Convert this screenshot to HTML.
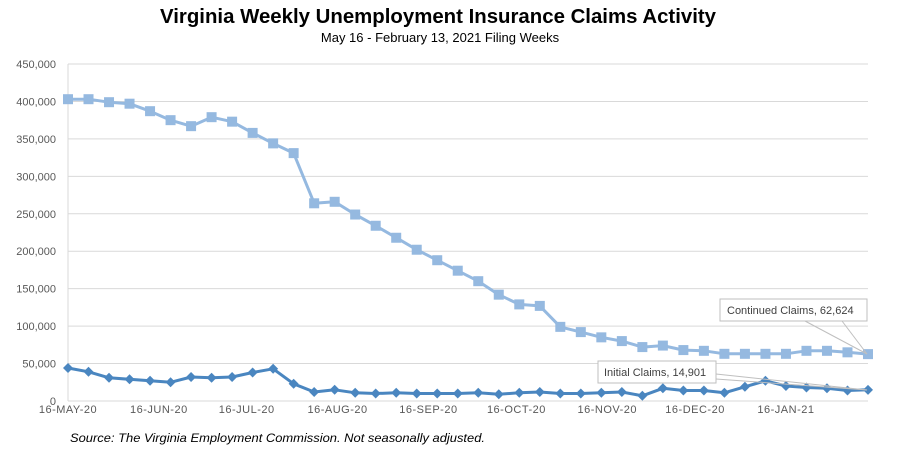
<!DOCTYPE html>
<html><head><meta charset="utf-8"><style>
body{margin:0;background:#fff;}
svg{display:block;font-family:"Liberation Sans",sans-serif;}
</style></head><body>
<svg width="897" height="449" viewBox="0 0 897 449">
<text x="438" y="23" text-anchor="middle" font-size="20" font-weight="bold" fill="#000" textLength="556" lengthAdjust="spacingAndGlyphs">Virginia Weekly Unemployment Insurance Claims Activity</text>
<text x="440" y="42" text-anchor="middle" font-size="13" fill="#000">May 16 - February 13, 2021 Filing Weeks</text>
<g id="grid" stroke="#d9d9d9" stroke-width="1"></g>
<g id="ylab" font-size="11" fill="#595959" text-anchor="end"></g>
<g id="xlab" font-size="11" fill="#595959" text-anchor="middle" letter-spacing="0.5"></g>
<g id="series"></g>
<rect x="720" y="299" width="147" height="22" fill="#fff" stroke="#bfbfbf"/>
<text x="727" y="314" font-size="11" fill="#404040">Continued Claims, 62,624</text>
<line x1="805" y1="321" x2="867" y2="354" stroke="#bfbfbf"/>
<line x1="842" y1="321" x2="867" y2="354" stroke="#bfbfbf"/>
<rect x="598" y="361" width="118" height="22" fill="#fff" stroke="#bfbfbf"/>
<text x="604" y="376" font-size="11" fill="#404040">Initial Claims, 14,901</text>
<line x1="716" y1="374" x2="867" y2="390" stroke="#bfbfbf"/>
<line x1="716" y1="379" x2="867" y2="390" stroke="#bfbfbf"/>
<text x="70" y="442" font-size="12" font-style="italic" fill="#000" textLength="415" lengthAdjust="spacingAndGlyphs">Source: The Virginia Employment Commission. Not seasonally adjusted.</text>
</svg>
<script>
const ns="http://www.w3.org/2000/svg";
function el(t,a,p,txt){const e=document.createElementNS(ns,t);for(const k in a)e.setAttribute(k,a[k]);if(txt!==undefined)e.textContent=txt;document.getElementById(p).appendChild(e);return e;}
const y0=401,sc=337/450;
for(let i=0;i<=9;i++){const v=i*50;const y=y0-v*sc;
 if(i>0)el('line',{x1:68,x2:868,y1:y,y2:y},'grid');
 el('text',{x:56,y:y+4},'ylab',i==0?'0':v+',000');}
el('line',{x1:68,x2:68,y1:64,y2:401},'grid');
el('line',{x1:68,x2:868,y1:401,y2:401},'grid');
const xs=i=>68+i*800/39;
[['16-MAY-20',0],['16-JUN-20',4.43],['16-JUL-20',8.71],['16-AUG-20',13.14],['16-SEP-20',17.57],['16-OCT-20',21.86],['16-NOV-20',26.29],['16-DEC-20',30.57],['16-JAN-21',35]].forEach(([t,i])=>el('text',{x:xs(i),y:413},'xlab',t));
const cont=[403,403,399,397,387,375,367,379,373,358,344,331,264,266,249,234,218,202,188,174,160,142,129,127,99,92,85,80,72,74,68,67,63,63,63,63,67,67,65,62.6];
const init=[44,39,31,29,27,25,32,31,32,38,43,23,12,15,11,10,11,10,10,10,11,9,11,12,10,10,11,12,7,17,14,14,11,19,27,20,18,17,14,14.9];
function line(d,c){const pts=d.map((v,i)=>xs(i).toFixed(1)+','+(y0-v*sc).toFixed(1)).join(' ');
 el('polyline',{points:pts,fill:'none',stroke:c,'stroke-width':3,'stroke-linejoin':'round'},'series');}
line(cont,'#95b9e0');line(init,'#4a86c0');
cont.forEach((v,i)=>el('rect',{x:xs(i)-5,y:y0-v*sc-5,width:10,height:10,fill:'#95b9e0'},'series'));
init.forEach((v,i)=>{const x=xs(i),y=y0-v*sc;el('polygon',{points:`${x},${y-5} ${x+5},${y} ${x},${y+5} ${x-5},${y}`,fill:'#4a86c0'},'series');});
</script>
</body></html>
